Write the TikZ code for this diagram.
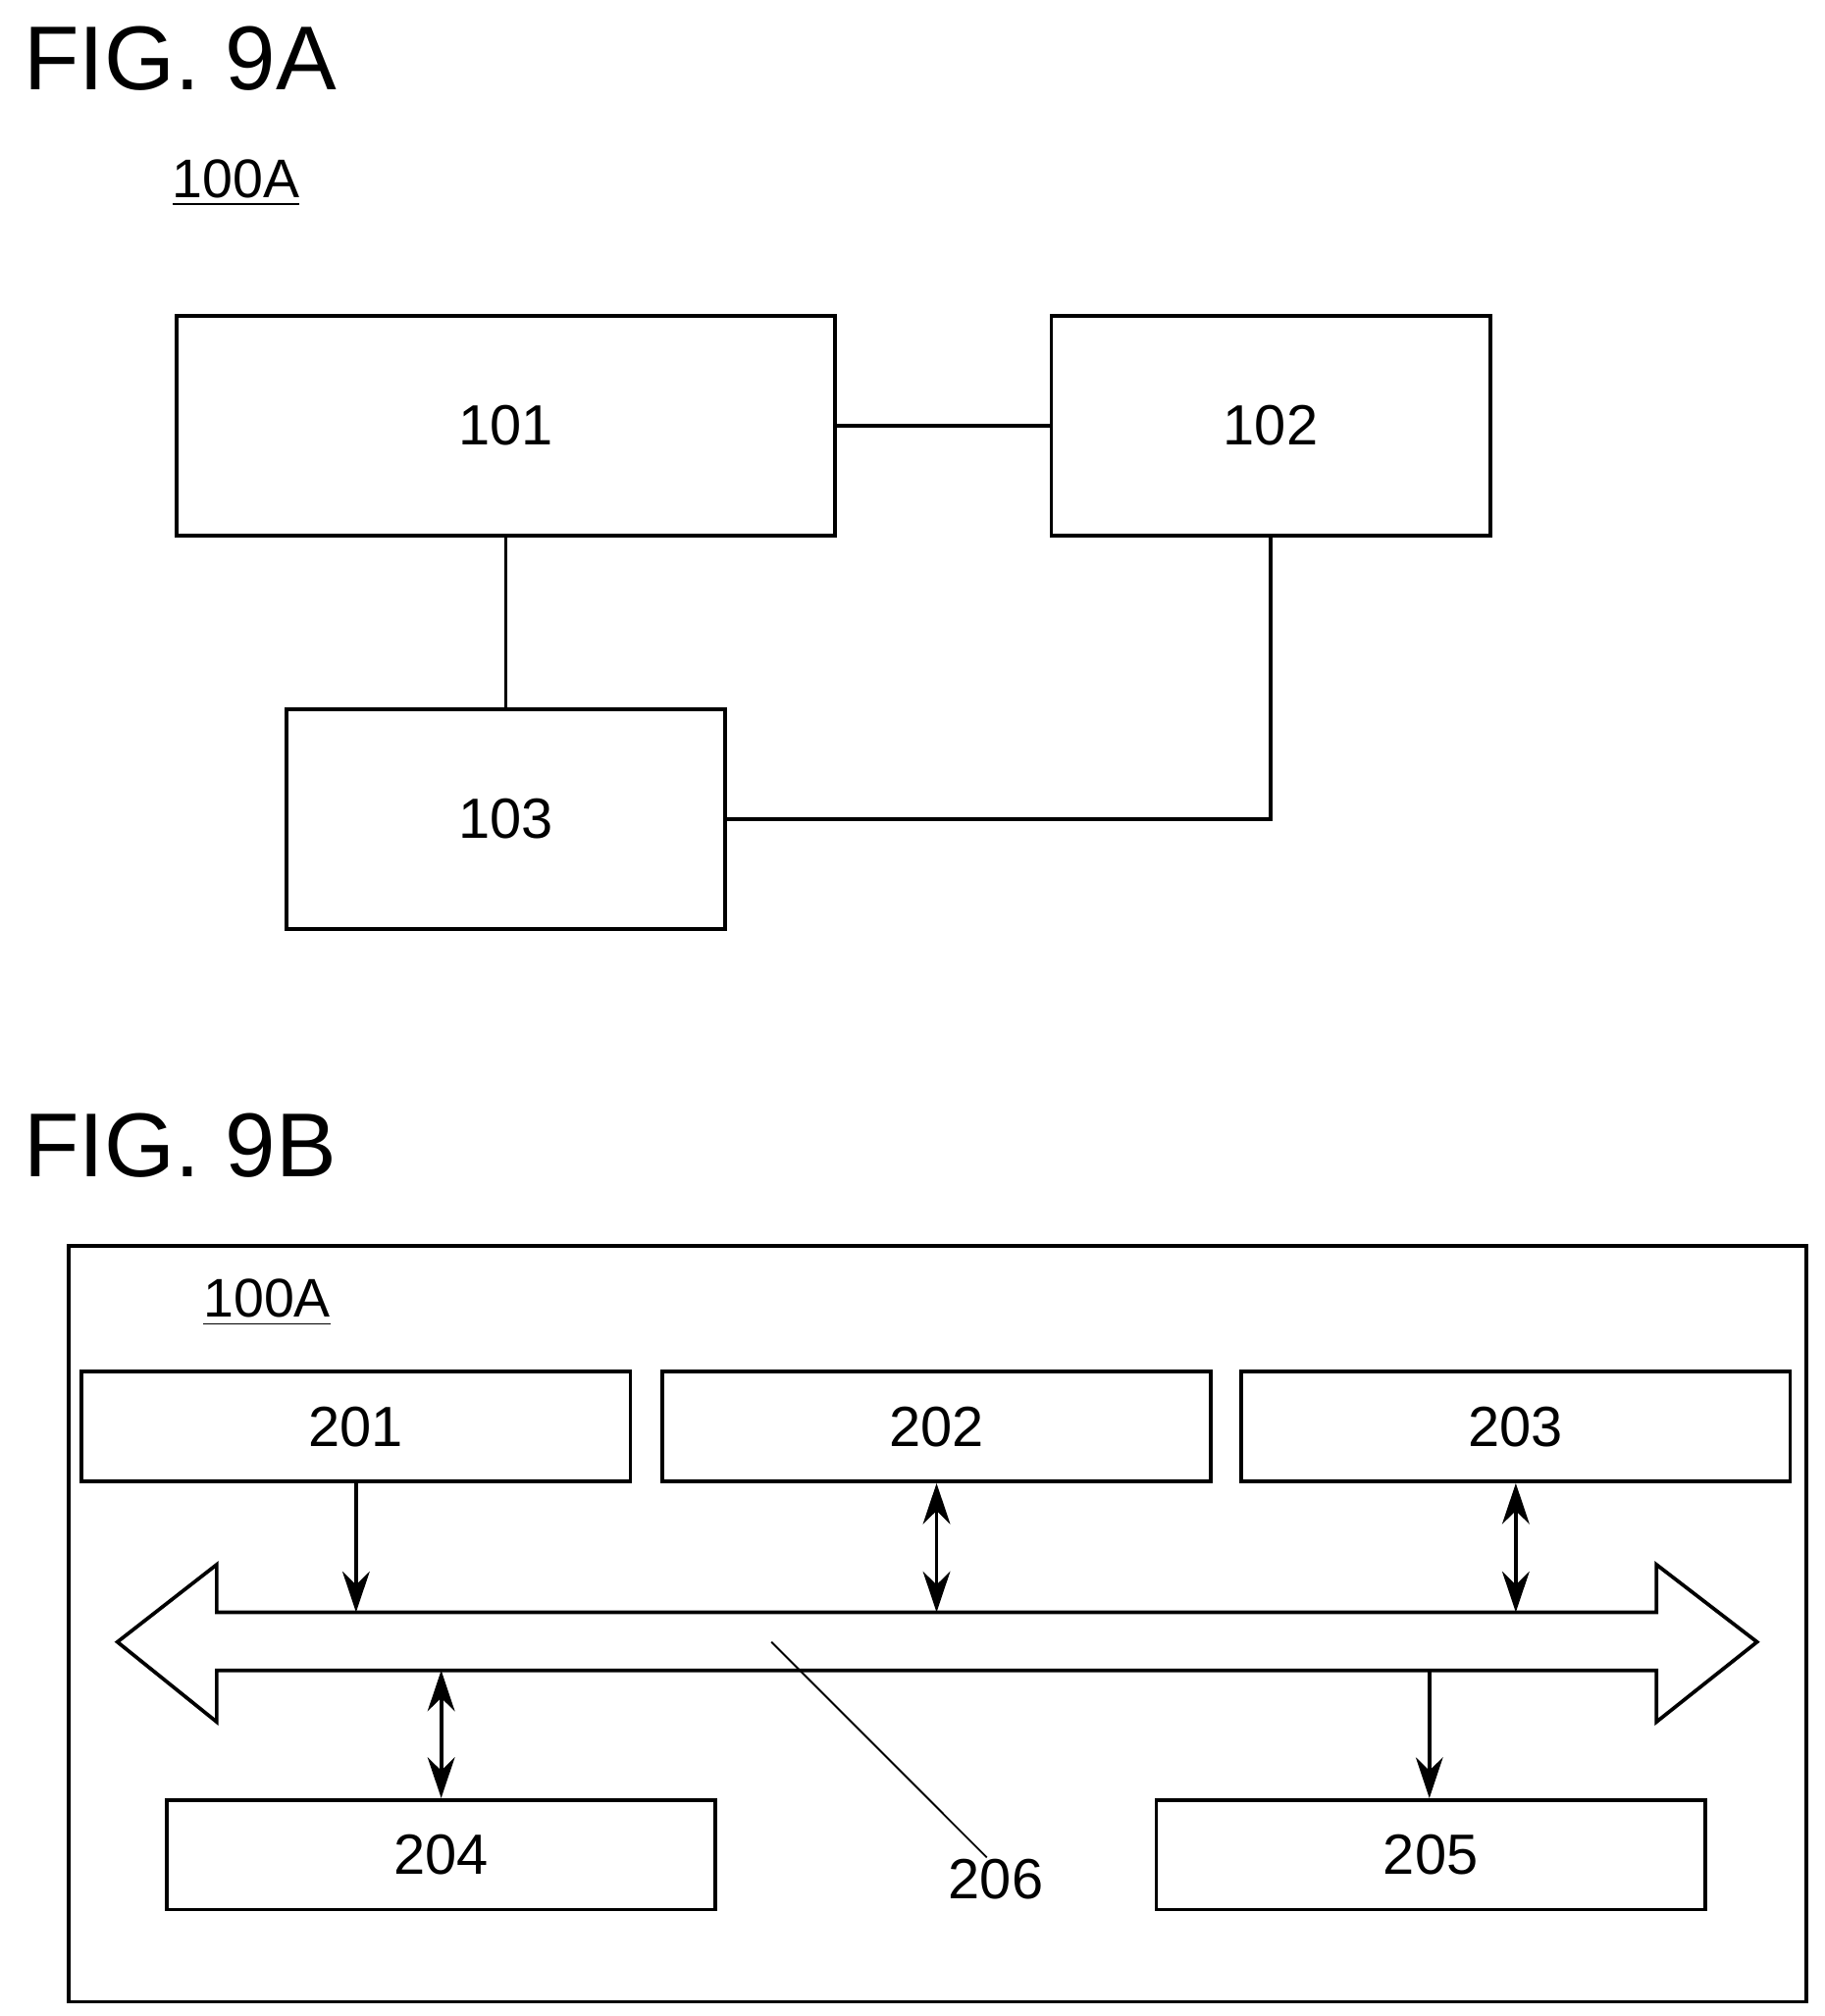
\documentclass[tikz,border=0pt]{standalone}
\usepackage{fontspec}
\setmainfont{Liberation Sans}
\usetikzlibrary{arrows.meta,shapes.arrows}

\tikzset{
  box/.style={draw,thick,inner sep=0pt,font=\fontsize{12.5}{15}\selectfont},
  fig/.style={font=\fontsize{20}{24}\selectfont,anchor=west},
  ref/.style={font=\fontsize{12}{14}\selectfont},
  link/.style={thick},
  tip/.tip={Stealth[length=9pt,width=6pt]},
  bus/.style={-tip,thick},
  dbus/.style={tip-tip,thick}
}

\begin{document}
\begin{tikzpicture}[x=0.01cm,y=-0.01cm]
    \useasboundingbox (0,0) rectangle (1414,1563);
    % FIG. 9A
    \node[fig] (figa) at (6,45) {FIG. 9A};
    \node[ref] (refa) at (183,142) {\underline{100A}};
    \node[box,minimum width=5.1cm,minimum height=1.7cm] (b101) at (392,330) {101};
    \node[box,minimum width=3.4cm,minimum height=1.7cm] (b102) at (985,330) {102};
    \node[box,minimum width=3.4cm,minimum height=1.7cm] (b103) at (392,635) {103};
    \draw[link] (b101) -- (b102);
    \draw[link] (b101) -- (b103);
    \draw[link] (b102.south) |- (b103.east);
    % FIG. 9B
    \node[fig] (figb) at (6,888) {FIG. 9B};
    \draw[thick] (53,966) rectangle (1400,1552);
    \node[ref] (refb) at (207,1010) {\underline{100A}};
    \foreach \name/\x/\y in {201/276/1106,202/726/1106,203/1175/1106,204/342/1438,205/1109/1438}
        \node[box,minimum width=4.25cm,minimum height=0.85cm] (b\name) at (\x,\y) {\name};
    \draw[thick,fill=white] (91,1273) -- (168,1213) -- (168,1250) -- (1284,1250)
        -- (1284,1213) -- (1362,1273) -- (1284,1335) -- (1284,1295) -- (168,1295)
        -- (168,1335) -- cycle;
    \coordinate (t201) at (b201.south |- 0,1250);
    \coordinate (t202) at (b202.south |- 0,1250);
    \coordinate (t203) at (b203.south |- 0,1250);
    \coordinate (t204) at (b204.north |- 0,1295);
    \coordinate (t205) at (1108,1295);
    \draw[bus] (b201.south) -- (t201);
    \draw[dbus] (b202.south) -- (t202);
    \draw[dbus] (b203.south) -- (t203);
    \draw[dbus] (b204.north) -- (t204);
    \draw[bus] (t205) -- (t205 |- b205.north);
    \node[box,draw=none] (l206) at (772,1457) {206};
    \coordinate (p206) at (598,1273);
    \draw (p206) -- ([xshift=-2pt]l206.north);
\end{tikzpicture}
\end{document}
